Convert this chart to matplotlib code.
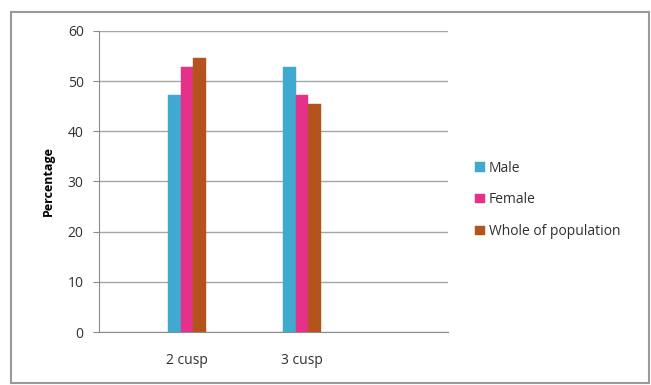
import matplotlib
matplotlib.use("Agg")
import matplotlib.pyplot as plt
import numpy as np
from matplotlib.patches import Rectangle

categories = ["2 cusp", "3 cusp"]
series_names = ["Male", "Female", "Whole of population"]
male = [47.2, 52.9]
female = [52.8, 47.2]
whole = [54.6, 45.5]
colors = ["#3FA9CF", "#E6318A", "#B4531B"]
yticks = [0, 10, 20, 30, 40, 50, 60]

W, H = 651, 385
plt.rcParams["font.family"] = ["Open Sans", "DejaVu Sans"]
fig = plt.figure(figsize=(W / 100, H / 100), dpi=100)

# outer chart frame
fig.patches.append(Rectangle((11 / W, 1 - 383 / H), 638 / W, 371 / H,
                             transform=fig.transFigure, fill=False,
                             edgecolor="#9A9A9A", linewidth=1.5))

ax = fig.add_axes([99 / W, 1 - 332 / H, 349 / W, 301 / H])
x = np.arange(len(categories))
bw = 0.11
for i, (vals, name) in enumerate(zip([male, female, whole], series_names)):
    ax.bar(x + (i - 1) * bw, vals, width=bw, color=colors[i],
           edgecolor=colors[i], linewidth=0.3, label=name, zorder=3)

ax.set_xlim(-0.765, 2.27)
ax.set_ylim(0, 60)
ax.set_yticks(yticks)
ax.set_xticks(x)
ax.set_xticklabels(categories)
ax.yaxis.grid(True, color="#A6A6A6", linewidth=1.0)
ax.set_axisbelow(True)
for s in ["top", "right"]:
    ax.spines[s].set_visible(False)
for s in ["left", "bottom"]:
    ax.spines[s].set_color("#8C8C8C")
ax.tick_params(axis="y", length=4, color="#8C8C8C", labelsize=10,
               labelcolor="#303030", pad=7)
ax.tick_params(axis="x", length=0, labelsize=10, labelcolor="#303030", pad=15)
ax.set_ylabel("Percentage", fontsize=9, fontweight="bold", labelpad=9)

fig.legend(loc="center left", bbox_to_anchor=(463 / W, 1 - 200 / H),
           frameon=False, fontsize=10, handlelength=0.65, handleheight=0.65,
           handletextpad=0.3, labelspacing=1.2, labelcolor="#303030")

fig.savefig("out.png", dpi=100)
